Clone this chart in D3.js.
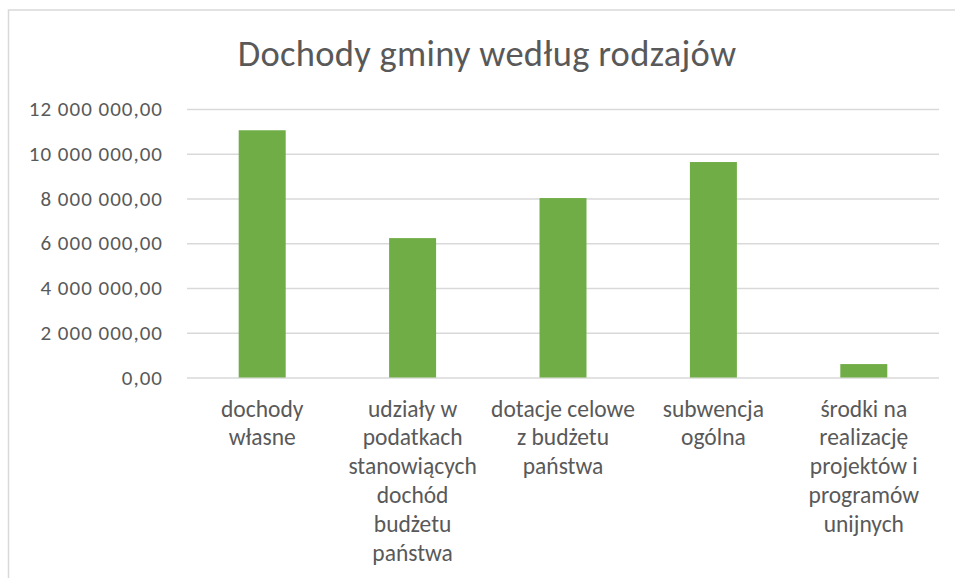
<!DOCTYPE html>
<html>
<head>
<meta charset="utf-8">
<script src="https://cdn.jsdelivr.net/npm/d3@7"></script>
<style>
  html, body { margin: 0; padding: 0; background: #fff; }
  #chart { width: 955px; height: 578px; }
  text { font-family: Carlito, Lato, "Open Sans", sans-serif; fill: #595959; }
</style>
</head>
<body>
<div id="chart"></div>
<script>
var title = "Dochody gminy według rodzajów";
var categories = [
    "dochody\nwłasne",
    "udziały w\npodatkach\nstanowiących\ndochód\nbudżetu\npaństwa",
    "dotacje celowe\nz budżetu\npaństwa",
    "subwencja\nogólna",
    "środki na\nrealizację\nprojektów i\nprogramów\nunijnych"
];
var values = [11050000, 6230000, 8020000, 9630000, 600000];
var yTicks = [0, 2000000, 4000000, 6000000, 8000000, 10000000, 12000000];

var width = 955, height = 578;
var margin = { top: 109, right: 16, bottom: 200.5, left: 187 };

var svg = d3.select("#chart")
    .append("svg")
    .attr("width", width)
    .attr("height", height);

// chart frame
svg.append("rect")
    .attr("x", 8.5)
    .attr("y", 10)
    .attr("width", 980)
    .attr("height", 600)
    .style("fill", "#fff")
    .style("stroke", "#d9d9d9")
    .style("stroke-width", 1.5);

svg.append("text")
    .attr("x", 487)
    .attr("y", 66)
    .attr("text-anchor", "middle")
    .style("font-size", "36.5px")
    .style("letter-spacing", "0.3px")
    .text(title);

var x = d3.scaleBand()
    .domain(categories)
    .range([margin.left, width - margin.right])
    .paddingInner(0.6875)
    .paddingOuter(0.34375);

var y = d3.scaleLinear()
    .domain([0, 12000000])
    .range([height - margin.bottom, margin.top]);

var plFormat = d3.formatLocale({
    decimal: ",",
    thousands: "\u00a0",
    grouping: [3],
    currency: ["", " zł"]
}).format(",.2f");

// gridlines
var yAxis = d3.axisLeft(y)
    .tickValues(yTicks)
    .tickSize(-(width - margin.left - margin.right))
    .tickPadding(24)
    .tickFormat(plFormat);

var gy = svg.append("g")
    .attr("transform", "translate(" + margin.left + ",0)")
    .call(yAxis);

gy.select(".domain").remove();
gy.selectAll(".tick line")
    .style("stroke", "#d9d9d9")
    .style("stroke-width", 1.5);
gy.selectAll(".tick text")
    .style("font-size", "21px")
    .style("letter-spacing", "1px")
    .style("font-family", "Carlito, Lato, sans-serif")
    .attr("fill", "#595959");

// bars
svg.append("g")
    .selectAll("rect")
    .data(values)
    .join("rect")
    .attr("x", function(d, i) { return x(categories[i]); })
    .attr("y", function(d) { return y(d); })
    .attr("width", x.bandwidth())
    .attr("height", function(d) { return y(0) - y(d); })
    .style("fill", "#70ad47");

// category labels
var labels = svg.append("g")
    .selectAll("text")
    .data(categories)
    .join("text")
    .attr("text-anchor", "middle")
    .style("font-size", "23.5px")
    .attr("x", function(d) { return x(d) + x.bandwidth() / 2; })
    .attr("y", 416.5);

labels.selectAll("tspan")
    .data(function(d) { return d.split("\n"); })
    .join("tspan")
    .attr("x", function() { var p = this.parentNode; return p.getAttribute("x"); })
    .attr("dy", function(d, i) { return i === 0 ? 0 : 28.9; })
    .text(function(d) { return d; });
</script>
</body>
</html>
